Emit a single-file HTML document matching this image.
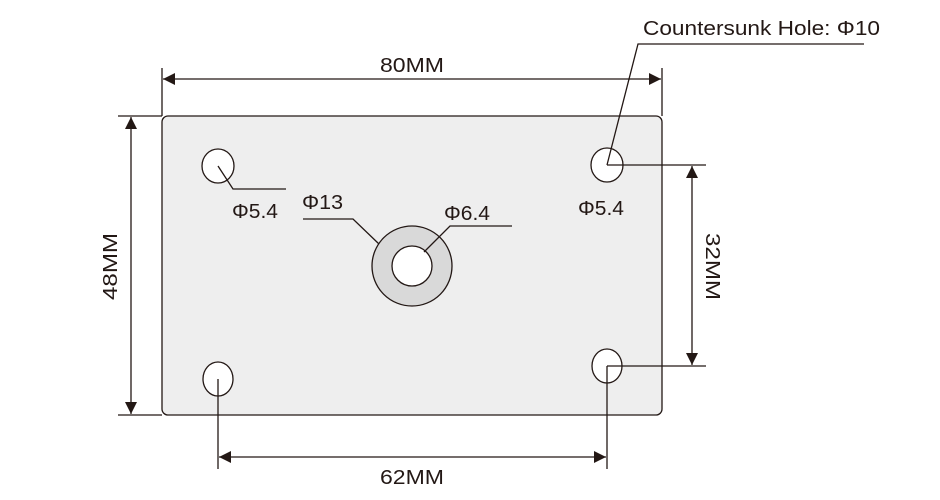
<!DOCTYPE html>
<html><head><meta charset="utf-8"><style>
html,body{margin:0;padding:0;background:#fff;}
svg{display:block;}
text{font-family:"Liberation Sans",sans-serif;fill:#231815;}
</style></head><body>
<svg width="940" height="500" viewBox="0 0 940 500" xmlns="http://www.w3.org/2000/svg">
<defs>
<marker id="a" viewBox="0 0 10 10" refX="10" refY="5" markerWidth="12" markerHeight="12" markerUnits="userSpaceOnUse" orient="auto-start-reverse">
<path d="M0,0 L10,5 L0,10 z" fill="#231815"/>
</marker>
</defs>
<g stroke="#231815" stroke-width="1.3" fill="none">
<rect x="162" y="116" width="500" height="299" rx="6" fill="#eeeeee"/>
<ellipse cx="218" cy="166" rx="16" ry="17" fill="#fff"/>
<ellipse cx="607" cy="165" rx="16" ry="17" fill="#fff"/>
<ellipse cx="218" cy="379" rx="15" ry="17" fill="#fff"/>
<ellipse cx="607" cy="366" rx="15" ry="17" fill="#fff"/>
<circle cx="412" cy="266" r="40" fill="#d9d9d9"/>
<circle cx="412" cy="266" r="20" fill="#fff"/>
<line x1="162" y1="68" x2="162" y2="116"/>
<line x1="662" y1="68" x2="662" y2="116"/>
<line x1="163" y1="79" x2="661" y2="79" marker-start="url(#a)" marker-end="url(#a)"/>
<line x1="118" y1="116" x2="162" y2="116"/>
<line x1="118" y1="415" x2="162" y2="415"/>
<line x1="131" y1="117" x2="131" y2="414" marker-start="url(#a)" marker-end="url(#a)"/>
<line x1="607" y1="165" x2="706" y2="165"/>
<line x1="607" y1="366" x2="706" y2="366"/>
<line x1="692" y1="166" x2="692" y2="365" marker-start="url(#a)" marker-end="url(#a)"/>
<line x1="218" y1="379" x2="218" y2="469"/>
<line x1="607" y1="366" x2="607" y2="469"/>
<line x1="219" y1="457" x2="606" y2="457" marker-start="url(#a)" marker-end="url(#a)"/>
<polyline points="218,166 233,189 286,189"/>
<polyline points="303,219 353,219 379,244"/>
<polyline points="424,252 450,226 512,226"/>
<polyline points="607,165 638,44 864,44"/>
</g>
<g font-size="20">
<text x="380" y="72" textLength="64" lengthAdjust="spacingAndGlyphs">80MM</text>
<text x="380" y="484" textLength="64" lengthAdjust="spacingAndGlyphs">62MM</text>
<text transform="translate(117,300) rotate(-90)" textLength="67" lengthAdjust="spacingAndGlyphs">48MM</text>
<text transform="translate(706,233) rotate(90)" textLength="67" lengthAdjust="spacingAndGlyphs">32MM</text>
<text x="232" y="218" textLength="46" lengthAdjust="spacingAndGlyphs">Φ5.4</text>
<text x="578" y="215" textLength="46" lengthAdjust="spacingAndGlyphs">Φ5.4</text>
<text x="302" y="209" textLength="41" lengthAdjust="spacingAndGlyphs">Φ13</text>
<text x="444" y="220" textLength="46" lengthAdjust="spacingAndGlyphs">Φ6.4</text>
<text x="643" y="35" textLength="237" lengthAdjust="spacingAndGlyphs">Countersunk Hole: Φ10</text>
</g>
</svg>
</body></html>
